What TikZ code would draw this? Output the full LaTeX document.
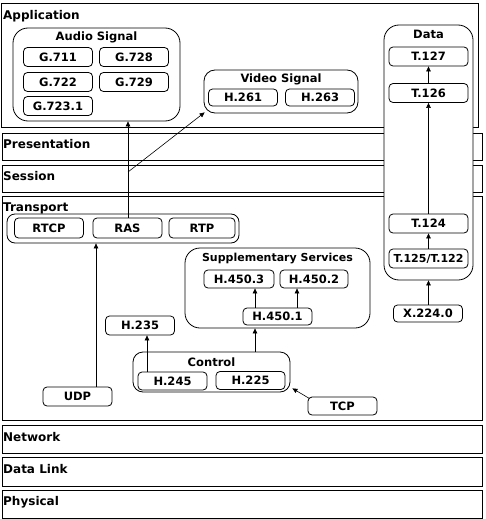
\documentclass[tikz,border=0pt]{standalone}
\usepackage{fontspec}
\setmainfont{DejaVu Sans}
\usetikzlibrary{arrows.meta}
\begin{document}
\begin{tikzpicture}[x=1pt,y=-1pt,
  font=\fontsize{11.5}{13}\selectfont\bfseries,
  layer/.style={draw=black,line width=0.8pt,rectangle,inner sep=0pt},
  lbl/.style={anchor=base west,inner sep=0pt,font=\fontsize{12}{14}\selectfont\bfseries},
  grp/.style={draw=black,line width=0.8pt,fill=white,rectangle,inner sep=0pt},
  ttl/.style={inner sep=0pt},
  box/.style={draw=black,line width=0.8pt,fill=white,rounded corners=4pt,inner sep=0pt,minimum width=69pt,minimum height=19pt},
  arr/.style={line width=0.6pt,-{Triangle[length=5pt,width=4.5pt]}}]
\useasboundingbox (0,0) rectangle (485,519);
% layers
\node[layer,minimum width=477pt,minimum height=124pt] (app) at (239.5,65) {};
\node[layer,minimum width=480pt,minimum height=27pt] (pres) at (242,146.5) {};
\node[layer,minimum width=480pt,minimum height=27pt] (sess) at (242,178.5) {};
\node[layer,minimum width=480pt,minimum height=224pt] (trans) at (242,308) {};
\node[layer,minimum width=480pt,minimum height=28pt] (net) at (242,439) {};
\node[layer,minimum width=480pt,minimum height=29pt] (dl) at (242,471.5) {};
\node[layer,minimum width=480pt,minimum height=28pt] (phys) at (242,504) {};
\node[lbl] (appl) at (3,20) {Application};
\node[lbl] (presl) at (3,148) {Presentation};
\node[lbl] (sessl) at (3,180) {Session};
\node[lbl] (transl) at (3,211) {Transport};
\node[lbl] (netl) at (3,441) {Network};
\node[lbl] (dll) at (3,473) {Data Link};
\node[lbl] (physl) at (3,505) {Physical};
% groups
\node[grp,rounded corners=15pt,minimum width=167pt,minimum height=93pt] (audio) at (96.5,74.5) {};
\node[ttl] (audiot) at (96.5,37.5) {Audio Signal};
\node[grp,rounded corners=11pt,minimum width=154pt,minimum height=43pt] (video) at (281,91.5) {};
\node[ttl] (videot) at (281,79.5) {Video Signal};
\node[grp,rounded corners=15pt,minimum width=89pt,minimum height=255pt] (data) at (428.5,152.5) {};
\node[ttl] (datat) at (428.5,34.5) {Data};
\node[grp,rounded corners=8pt,minimum width=232pt,minimum height=29pt] (tgrp) at (123,228.5) {};
\node[grp,rounded corners=15pt,minimum width=185pt,minimum height=80pt] (supp) at (277.5,288) {};
\node[ttl,font=\fontsize{11}{13}\selectfont\bfseries] (suppt) at (277.5,258.5) {Supplementary Services};
\node[grp,rounded corners=10pt,minimum width=157pt,minimum height=40pt] (ctrl) at (211.5,372) {};
\node[ttl] (ctrlt) at (211.5,362) {Control};
% boxes
\node[box] (g711) at (58,57) {G.711};
\node[box] (g728) at (134,57) {G.728};
\node[box] (g722) at (58,82) {G.722};
\node[box] (g729) at (134,82) {G.729};
\node[box] (g7231) at (58,106) {G.723.1};
\node[box,minimum height=17pt] (h261) at (243,97.5) {H.261};
\node[box,minimum height=17pt] (h263) at (320,97.5) {H.263};
\node[box,minimum width=79pt] (t127) at (428.5,56.5) {T.127};
\node[box,minimum width=79pt] (t126) at (428.5,93) {T.126};
\node[box,minimum width=79pt] (t124) at (428.5,223.5) {T.124};
\node[box,minimum width=79pt,font=\fontsize{11}{13}\selectfont\bfseries] (t125) at (428.5,258.5) {T.125/T.122};
\node[box,minimum height=17pt] (x224) at (428,313.5) {X.224.0};
\node[box,minimum height=20pt] (rtcp) at (49,228) {RTCP};
\node[box,minimum height=20pt] (ras) at (127.5,228) {RAS};
\node[box,minimum height=20pt,minimum width=66pt] (rtp) at (202,228) {RTP};
\node[box] (udp) at (77.5,396.5) {UDP};
\node[box] (h235) at (140,325.5) {H.235};
\node[box,minimum height=18pt] (h245) at (172.5,381) {H.245};
\node[box,minimum height=18pt] (h225) at (250.5,380.5) {H.225};
\node[box,minimum height=18pt] (tcp) at (342.5,406) {TCP};
\node[box,minimum height=18pt,minimum width=70pt] (h4503) at (239,279) {H.450.3};
\node[box,minimum height=18pt,minimum width=68pt] (h4502) at (314,279) {H.450.2};
\node[box,minimum height=17pt] (h4501) at (277.5,316.5) {H.450.1};
% connectors
\coordinate (br) at (128,172);
\draw[arr] ([xshift=0.5pt]ras.north) -- ([xshift=0.5pt]ras.north |- audio.south);
\draw[arr] (br) -- ([xshift=1pt,yshift=1pt]video.south west);
\draw[arr] ([xshift=18.5pt]udp.north) -- ([xshift=18.5pt]udp.north |- tgrp.south);
\draw[arr] ([xshift=-25.5pt]h245.north) -- ([xshift=-25.5pt]h245.north |- h235.south);
\draw[arr] ([xshift=43.5pt]ctrl.north) -- ([xshift=43.5pt]ctrl.north |- supp.south);
\draw[arr] ([xshift=2pt,yshift=-2pt]tcp.north west) -- ([xshift=2pt,yshift=4pt]ctrl.south east);
\draw[arr] ([xshift=-22.5pt]h4501.north) -- ([xshift=-22.5pt]h4501.north |- h4503.south);
\draw[arr] ([xshift=19.5pt]h4501.north) -- ([xshift=19.5pt]h4501.north |- h4502.south);
\draw[arr] (t126.north) -- (t127.south);
\draw[arr] (t124.north) -- (t126.south);
\draw[arr] (t125.north) -- (t124.south);
\draw[arr] ([xshift=0.5pt]x224.north) -- ([xshift=0.5pt]x224.north |- data.south);
\end{tikzpicture}
\end{document}
